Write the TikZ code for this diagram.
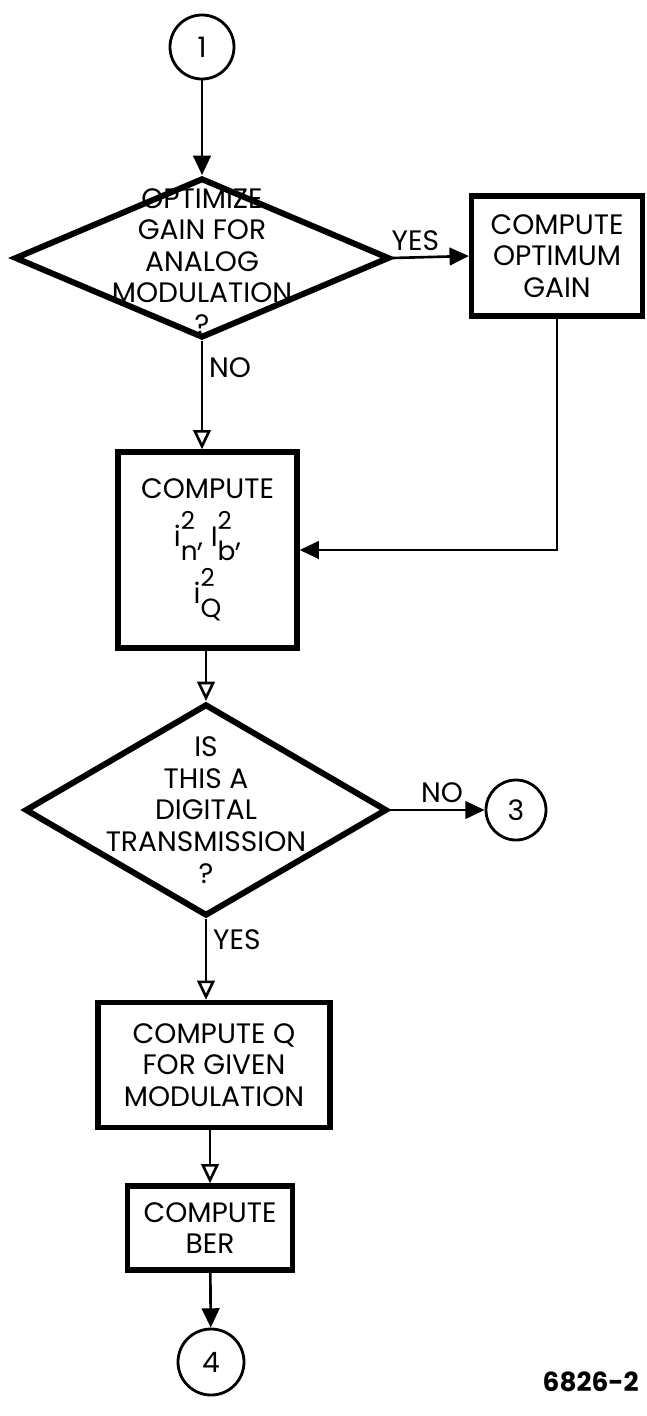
\documentclass[tikz,border=0pt]{standalone}
\usepackage{fontspec}
\setmainfont{Poppins}
\usetikzlibrary{shapes.geometric,arrows.meta,positioning}

\newcommand{\sqcurrent}[2]{#1\rlap{\raisebox{.62em}{\fontsize{14}{14}\selectfont 2}}%
  \raisebox{-.5em}{\fontsize{15}{15}\selectfont #2}}

\tikzset{
  flowbox/.style={draw,line width=3pt,align=center,inner sep=0pt},
  decision/.style={draw,diamond,line width=3.4pt,inner sep=0pt},
  connector/.style={draw,circle,line width=1.6pt,inner sep=0pt},
  flow/.style={line width=1.5pt,-{Triangle[length=11pt,width=10pt]}},
  openflow/.style={line width=1.5pt,-{Triangle[open,length=11pt,width=10pt]}},
}

\begin{document}
\begin{tikzpicture}[x=1cm,y=1cm,font=\fontsize{16}{18}\selectfont]
 \useasboundingbox (0,0) rectangle (12.92,-28.32);
 \node[connector,minimum size=1.28cm] (c1) at (4.04,-0.94) {1};
 \node[decision,minimum width=7.5cm,minimum height=3.2cm,
       label={[align=center,yshift=-2pt]center:OPTIMIZE\\GAIN FOR\\ANALOG\\MODULATION\\?}]
       (opt) at (4.04,-5.16) {};
 \node[flowbox,minimum width=3.42cm,minimum height=2.4cm] (gain) at (11.14,-5.12)
       {COMPUTE\\OPTIMUM\\GAIN};
 \node[flowbox,minimum width=3.58cm,minimum height=3.92cm] (noise) at (4.15,-11.0)
       {COMPUTE\\[6pt]
        \sqcurrent{i}{n},\ \sqcurrent{I}{b},\\[3pt]
        \sqcurrent{i}{Q}};
 \node[decision,minimum width=7.24cm,minimum height=4.24cm,
       label={[align=center]center:IS\\THIS A\\DIGITAL\\TRANSMISSION\\?}]
       (digital) at (4.12,-16.2) {};
 \node[connector,minimum size=1.2cm] (c3) at (10.32,-16.2) {3};
 \node[flowbox,minimum width=4.64cm,minimum height=2.5cm] (qmod) at (4.28,-21.3)
       {COMPUTE Q\\FOR GIVEN\\MODULATION};
 \node[flowbox,minimum width=3.3cm,minimum height=1.68cm] (ber) at (4.2,-24.56)
       {COMPUTE\\BER};
 \node[connector,minimum size=1.32cm] (c4) at (4.22,-27.24) {4};
 \node[anchor=east,font=\fontsize{15}{17}\selectfont\bfseries] (fig) at (12.9,-27.64) {6826-2};

 \draw[flow] (c1) -- (opt);
 \draw[flow] (opt.east) -- node[above,pos=.3] {YES} (gain.west);
 \draw[openflow] (opt.south) -- node[right,pos=.25] {NO} (opt.south |- noise.north);
 \draw[flow] (gain.south) |- (noise.east);
 \draw[openflow] (digital.north |- noise.south) -- (digital.north);
 \draw[flow] (digital.east) -- node[above,pos=.55] {NO} (c3);
 \draw[openflow] (digital.south) -- node[right,pos=.26] {YES} (digital.south |- qmod.north);
 \draw[openflow] (ber.north |- qmod.south) -- (ber.north);
 \draw[flow] (ber) -- (c4);
\end{tikzpicture}
\end{document}
